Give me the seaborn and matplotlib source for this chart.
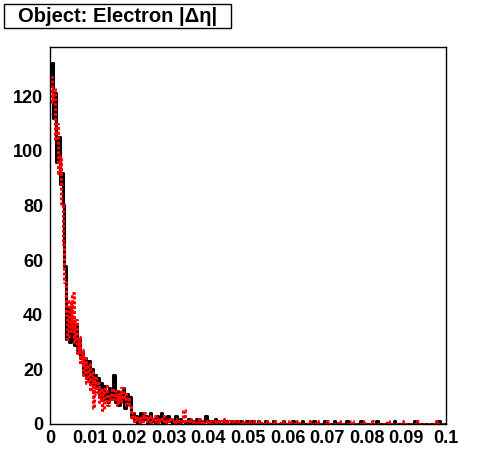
import numpy as np
import pandas as pd
import seaborn as sns
import matplotlib.pyplot as plt
from matplotlib.patches import Rectangle

# 250 bins from 0 to 0.1
n_bins = 250
x_range = (0, 0.1)
bin_centers = [0.0002 + 0.0004 * i for i in range(n_bins)]

# black histogram (solid)
black_counts = [
    124, 132, 112, 121, 96, 105, 88, 92, 80, 58,
    31, 42, 30, 38, 33, 29, 36, 27, 31, 24,
    26, 19, 24, 17, 23, 15, 20, 14, 18, 13,
    17, 10, 15, 9, 14, 11, 8, 13, 9, 12,
    18, 8, 12, 7, 11, 9, 13, 6, 11, 8,
    10, 3, 4, 1, 3, 0, 2, 4, 1, 2,
    3, 0, 2, 4, 1, 2, 0, 3, 1, 2, 4, 0, 2, 1, 3,
    2, 1, 0, 1, 3, 1, 0, 2, 1, 1, 0, 1, 2, 0, 1, 1, 0, 2, 1, 0, 1, 0, 1, 3, 1,
    1, 0, 1, 0, 2, 0, 1, 0, 0, 1, 0, 1, 0, 0, 1, 0, 0, 1, 0, 0, 1, 0, 0, 0, 1,
    0, 0, 1, 0, 0, 0, 1, 0, 0, 0, 0, 1, 0, 0, 0, 0, 1, 0, 0, 0, 0, 0, 1, 0, 0,
    0, 0, 0, 1, 0, 0, 0, 0, 0, 1, 0, 0, 0, 0, 0, 0, 1, 0, 0, 0, 0, 0, 0, 1, 0,
    0, 0, 0, 0, 1, 0, 0, 0, 0, 0, 0, 0, 1, 0, 0, 0, 0, 0, 0, 0, 0, 1, 0, 0, 0,
    0, 0, 0, 0, 0, 0, 1, 0, 0, 0, 0, 0, 0, 0, 0, 0, 0, 1, 0, 0, 0, 0, 0, 0, 0,
    0, 0, 0, 0, 0, 1, 0, 0, 0, 0, 0, 0, 0, 0, 0, 0, 0, 0, 0, 0, 1, 0, 0, 0, 0,
]

# red histogram (dotted)
red_counts = [
    127, 118, 123, 104, 110, 92, 98, 80, 66, 52,
    40, 31, 45, 34, 48, 30, 38, 26, 32, 22,
    27, 18, 24, 15, 22, 12, 19, 6, 17, 11,
    15, 8, 13, 5, 12, 14, 7, 11, 9, 13,
    9, 12, 7, 11, 8, 13, 9, 11, 7, 10,
    7, 2, 4, 1, 3, 2, 0, 3, 1, 4,
    2, 1, 3, 0, 2, 1, 3, 2, 0, 1, 2, 3, 1, 0, 2,
    1, 2, 1, 0, 1, 2, 1, 0, 1, 5, 1, 0, 1, 2, 1, 0, 1, 1, 0, 2, 1, 0, 1, 1, 0,
    1, 0, 0, 1, 0, 1, 0, 0, 1, 0, 2, 0, 0, 1, 0, 0, 1, 0, 0, 1, 0, 0, 1, 0, 0,
    1, 0, 0, 0, 1, 0, 0, 1, 0, 0, 0, 0, 1, 0, 0, 0, 1, 0, 0, 0, 0, 1, 0, 0, 0,
    0, 1, 0, 0, 0, 0, 1, 0, 0, 0, 0, 0, 0, 1, 0, 0, 0, 0, 1, 0, 0, 0, 0, 0, 0,
    1, 0, 0, 0, 0, 0, 0, 1, 0, 0, 0, 0, 0, 0, 0, 1, 0, 0, 0, 0, 0, 0, 0, 1, 0,
    0, 0, 0, 1, 0, 0, 0, 0, 0, 0, 0, 0, 0, 1, 0, 0, 0, 0, 0, 0, 0, 0, 1, 0, 0,
    0, 0, 0, 0, 0, 0, 0, 1, 0, 0, 0, 0, 0, 0, 0, 0, 0, 0, 0, 1, 0, 0, 0, 0, 0,
]

x_ticks = [0, 0.01, 0.02, 0.03, 0.04, 0.05, 0.06, 0.07, 0.08, 0.09, 0.1]
x_labels = ["0", "0.01", "0.02", "0.03", "0.04", "0.05", "0.06", "0.07", "0.08", "0.09", "0.1"]
y_ticks = [0, 20, 40, 60, 80, 100, 120]
title = "Object: Electron |\u0394\u03b7|"

df_black = pd.DataFrame({"deta": bin_centers, "w": black_counts})
df_red = pd.DataFrame({"deta": bin_centers, "w": red_counts})

sns.set_style("white")
plt.rcParams["font.family"] = ["Liberation Sans", "DejaVu Sans"]

fig = plt.figure(figsize=(4.96, 4.72), dpi=100)
ax = fig.add_axes([0.1008, 0.1017, 0.7984, 0.7987])

sns.histplot(data=df_black, x="deta", weights="w", bins=n_bins, binrange=x_range,
             element="step", fill=False, color="black", linewidth=2.2, ax=ax)
sns.histplot(data=df_red, x="deta", weights="w", bins=n_bins, binrange=x_range,
             element="step", fill=False, color="red", linewidth=2.2,
             linestyle=(0, (1.0, 0.6)), ax=ax)

ax.set_xlim(0, 0.1)
ax.set_ylim(0, 138)
ax.set_xlabel("")
ax.set_ylabel("")
ax.set_xticks(x_ticks)
ax.set_xticklabels(x_labels)
ax.set_yticks(y_ticks)
ax.set_xticks(np.arange(0, 0.1001, 0.002), minor=True)
ax.set_yticks(np.arange(0, 138, 5), minor=True)
ax.tick_params(axis="both", which="major", direction="in", length=8.5, width=1,
               labelsize=13, color="black", labelcolor="black")
ax.tick_params(axis="both", which="minor", direction="in", length=4, width=1)
ax.tick_params(axis="x", pad=4)
ax.tick_params(axis="y", pad=5)
for lab in ax.get_xticklabels() + ax.get_yticklabels():
    lab.set_fontweight("bold")
for side in ["top", "right", "left", "bottom"]:
    ax.spines[side].set_visible(True)
    ax.spines[side].set_color("black")
    ax.spines[side].set_linewidth(1)

# title box in the top-left corner
fig.patches.append(Rectangle((4 / 496, 1 - 28 / 472), 227 / 496, 24 / 472,
                             transform=fig.transFigure, facecolor="white",
                             edgecolor="black", linewidth=1))
fig.text(118 / 496, 1 - 16 / 472, title, ha="center", va="center",
         fontsize=14.5, fontweight="bold", color="black")

plt.savefig("out.png", dpi=100)
plt.close()
